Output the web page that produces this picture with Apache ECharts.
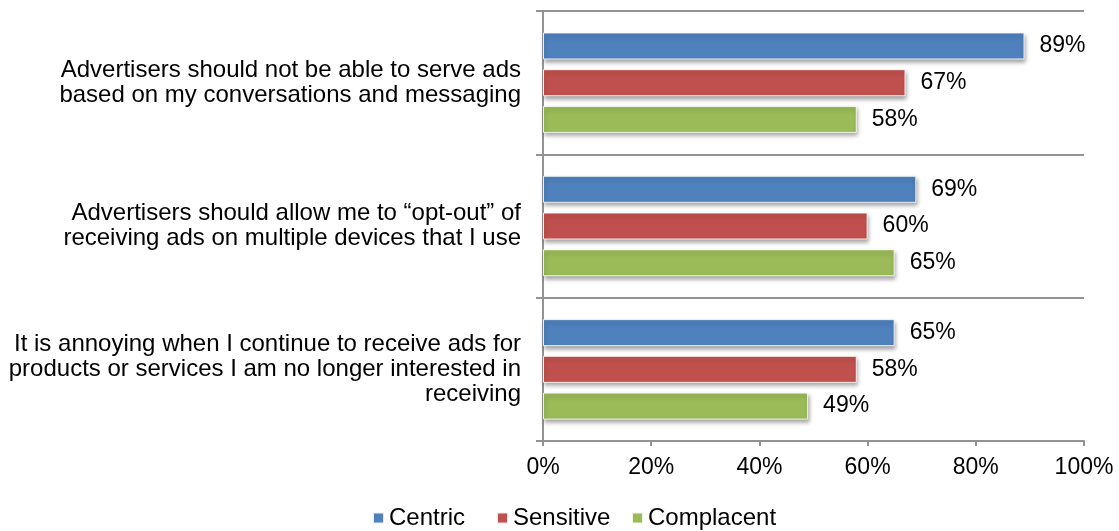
<!DOCTYPE html>
<html>
<head>
<meta charset="utf-8">
<script src="https://cdn.jsdelivr.net/npm/echarts@6/dist/echarts.min.js"></script>
<style>
  html, body { margin: 0; padding: 0; background: #fff; }
  #chart { width: 1119px; height: 531px; }
</style>
</head>
<body>
<div id="chart"></div>
<script>
// Survey statements (top to bottom)
const categories = [
  'Advertisers should not be able to serve ads\nbased on my conversations and messaging',
  'Advertisers should allow me to \u201copt-out\u201d of\nreceiving ads on multiple devices that I use',
  'It is annoying when I continue to receive ads for\nproducts or services I am no longer interested in\nreceiving'
];

// Share agreeing, per segment (%)
const centric = [89, 69, 65];
const sensitive = [67, 60, 58];
const complacent = [58, 65, 49];

const seriesNames = ['Centric', 'Sensitive', 'Complacent'];
const seriesColors = ['#4F81BD', '#C0504D', '#9BBB59'];
const seriesValues = [centric, sensitive, complacent];

const xTicks = { min: 0, max: 100, interval: 20 };

const FONT = '"Liberation Sans", Arial, sans-serif';
const axisGrey = '#939393';

// Legend entries are placed individually along the bottom row
const legendLeft = [372, 496, 631];

const chart = echarts.init(document.getElementById('chart'), null, { renderer: 'canvas' });

const series = seriesNames.map((name, i) => ({
  name,
  type: 'bar',
  data: seriesValues[i],
  barWidth: 27,
  barGap: '36%',
  itemStyle: {
    color: seriesColors[i],
    borderColor: 'rgba(255,255,255,0.85)',
    borderWidth: 1,
    shadowColor: 'rgba(0,0,0,0.35)',
    shadowBlur: 4,
    shadowOffsetX: 1,
    shadowOffsetY: 3
  },
  label: {
    show: true,
    position: 'right',
    distance: 15,
    formatter: '{c}%',
    color: '#000',
    fontFamily: FONT,
    fontSize: 23
  }
}));

// Bottom padding on the text drops the square marker to sit near the baseline
const legends = seriesNames.map((name, i) => ({
  data: [name],
  left: legendLeft[i],
  top: 506,
  padding: 0,
  icon: 'rect',
  itemWidth: 11,
  itemHeight: 11,
  textStyle: { fontFamily: FONT, fontSize: 24, color: '#000', padding: [0, 0, 5, 0] }
}));

chart.setOption({
  animation: false,
  backgroundColor: '#fff',
  grid: { left: 543, right: 35, top: 11, bottom: 90, containLabel: false },
  legend: legends,
  xAxis: {
    type: 'value',
    min: xTicks.min,
    max: xTicks.max,
    interval: xTicks.interval,
    axisLine: { show: true, lineStyle: { color: axisGrey, width: 2 } },
    axisTick: { show: true, length: 5, lineStyle: { color: axisGrey, width: 2 } },
    splitLine: { show: false },
    axisLabel: {
      formatter: '{value}%',
      color: '#000',
      fontFamily: FONT,
      fontSize: 23,
      margin: 15
    }
  },
  yAxis: {
    type: 'category',
    data: categories,
    inverse: true,
    axisLine: { show: true, lineStyle: { color: axisGrey, width: 2 } },
    axisTick: { show: true, length: 7, lineStyle: { color: axisGrey, width: 2 } },
    splitLine: { show: true, lineStyle: { color: axisGrey, width: 2 } },
    axisLabel: {
      color: '#000',
      fontFamily: FONT,
      fontSize: 24,
      lineHeight: 25,
      margin: 22,
      align: 'right'
    }
  },
  series
});
</script>
</body>
</html>
